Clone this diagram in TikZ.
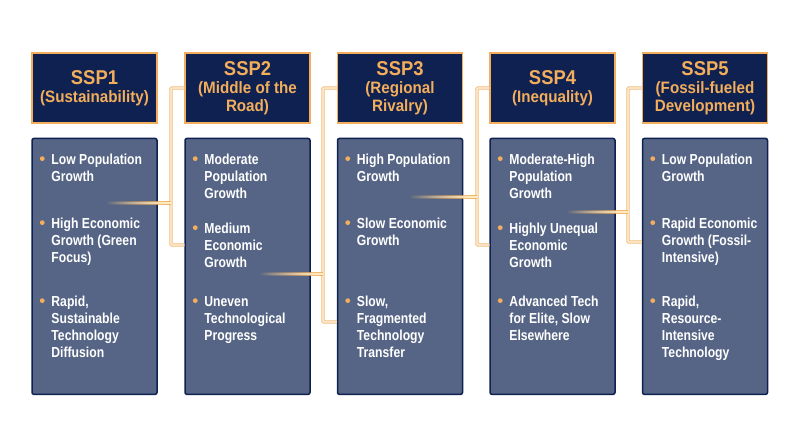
\documentclass[tikz,border=0pt]{standalone}
\usepackage{fontspec}
\setmainfont{Liberation Sans}[FakeStretch=0.84]
\newfontfamily\hdfont{Liberation Sans}[FakeStretch=0.92]
\usetikzlibrary{positioning,calc,fadings}

\definecolor{navy}{HTML}{0F2150}
\definecolor{slate}{HTML}{566585}
\definecolor{gold}{HTML}{F2AE5C}
\definecolor{tube}{HTML}{F2BD78}
\definecolor{tubecore}{HTML}{FFF6EA}
\definecolor{sparkcore}{HTML}{FFF0C8}

\tikzset{
  header/.style={draw=gold, line width=1.3pt, fill=navy, minimum width=125pt,
    minimum height=70pt, inner sep=0pt, align=center, text=gold,
    font=\hdfont\bfseries\fontsize{16.5}{18}\selectfont},
  panel/.style={draw=navy, line width=1.5pt, fill=slate, rounded corners=2pt,
    minimum width=125pt, minimum height=256pt, inner sep=0pt},
  item/.style={anchor=north west, align=left, inner sep=0pt, text=white,
    font=\bfseries\fontsize{14.5}{17}\selectfont},
  dot/.style={fill=gold},
  link/.style={draw=tube, line width=3.2pt, rounded corners=1pt,
    postaction={draw=tubecore, line width=1.2pt}},
  spark/.style={draw=gold, line width=3.6pt, path fading=west,
    postaction={draw=sparkcore, line width=1.3pt, path fading=west}},
}
\newcommand{\sspname}[1]{{\fontsize{20}{20}\selectfont #1}}

\begin{document}
\begin{tikzpicture}[x=1pt,y=-1pt]
  \fill[white] (0,0) rectangle (800,447);
  \useasboundingbox (0,0) rectangle (800,447);

  % scenario headers
  \node[header] (h1) at (94.5,88) {\sspname{SSP1}\\(Sustainability)};
  \node[header] (h2) at (247.5,88) {\sspname{SSP2}\\(Middle of the\\Road)};
  \node[header] (h3) at (400,88) {\sspname{SSP3}\\(Regional\\Rivalry)};
  \node[header] (h4) at (552.5,88) {\sspname{SSP4}\\(Inequality)};
  \node[header] (h5) at (705,88) {\sspname{SSP5}\\(Fossil-fueled\\Development)};

  % panels
  \node[panel] (b1) [below=14pt of h1] {};
  \node[panel] (b2) [below=14pt of h2] {};
  \node[panel] (b3) [below=14pt of h3] {};
  \node[panel] (b4) [below=14pt of h4] {};
  \node[panel] (b5) [below=14pt of h5] {};

  % links between neighbours
  \coordinate (s12) at (107,203);  \coordinate (j12) at (171,203);
  \coordinate (s23) at (260,274);  \coordinate (j23) at (323,274);
  \coordinate (s34) at (410,197);  \coordinate (j34) at (477,197);
  \coordinate (s45) at (567,212);  \coordinate (j45) at (628,212);
  \draw[link] (h2.west) -| (j12) |- (b2.west |- 0,245);
  \draw[link] (h3.west) -| (j23) |- (b3.west |- 0,322);
  \draw[link] (h4.west) -| (j34) |- (b4.west |- 0,245);
  \draw[link] (h5.west) -| (j45) |- (b5.west |- 0,242);
  \draw[spark] (s12) -- (j12);
  \draw[spark] (s23) -- (j23);
  \draw[spark] (s34) -- (j34);
  \draw[spark] (s45) -- (j45);

  % SSP1
  \node[item] (t11) at ($(b1.north west)+(20,16.5)$) {Low Population\\Growth};
  \node[item] (t12) at ($(b1.north west)+(20,80.5)$) {High Economic\\Growth (Green\\Focus)};
  \node[item] (t13) at ($(b1.north west)+(20,158.5)$) {Rapid,\\Sustainable\\Technology\\Diffusion};
  % SSP2
  \node[item] (t21) at ($(b2.north west)+(20,16.5)$) {Moderate\\Population\\Growth};
  \node[item] (t22) at ($(b2.north west)+(20,85.5)$) {Medium\\Economic\\Growth};
  \node[item] (t23) at ($(b2.north west)+(20,158.5)$) {Uneven\\Technological\\Progress};
  % SSP3
  \node[item] (t31) at ($(b3.north west)+(20,16.5)$) {High Population\\Growth};
  \node[item] (t32) at ($(b3.north west)+(20,80.5)$) {Slow Economic\\Growth};
  \node[item] (t33) at ($(b3.north west)+(20,158.5)$) {Slow,\\Fragmented\\Technology\\Transfer};
  % SSP4
  \node[item] (t41) at ($(b4.north west)+(20,16.5)$) {Moderate-High\\Population\\Growth};
  \node[item] (t42) at ($(b4.north west)+(20,85.5)$) {Highly Unequal\\Economic\\Growth};
  \node[item] (t43) at ($(b4.north west)+(20,158.5)$) {Advanced Tech\\for Elite, Slow\\Elsewhere};
  % SSP5
  \node[item] (t51) at ($(b5.north west)+(20,16.5)$) {Low Population\\Growth};
  \node[item] (t52) at ($(b5.north west)+(20,80.5)$) {Rapid Economic\\Growth (Fossil-\\Intensive)};
  \node[item] (t53) at ($(b5.north west)+(20,158.5)$) {Rapid,\\Resource-\\Intensive\\Technology};

  % bullets
  \foreach \t in {t11,t12,t13,t21,t22,t23,t31,t32,t33,t41,t42,t43,t51,t52,t53}
    \fill[dot] ($(\t.north west)+(-9,4.5)$) circle (2.4pt);
\end{tikzpicture}
\end{document}
